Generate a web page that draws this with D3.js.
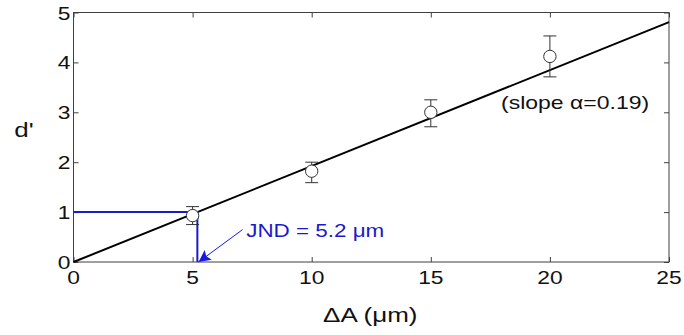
<!DOCTYPE html>
<html>
<head>
<meta charset="utf-8">
<script src="https://cdn.jsdelivr.net/npm/d3@7"></script>
<style>
  body { margin: 0; background: #fff; }
  text { font-family: "Liberation Sans", Arial, sans-serif; }
</style>
</head>
<body>
<div id="chart"></div>
<script>
// measured points
var deltaA = [5, 10, 15, 20];
var dPrime = [0.93, 1.82, 3.0, 4.12];
var errLow = [0.75, 1.59, 2.71, 3.71];
var errHigh = [1.11, 2.0, 3.25, 4.53];

var xTicks = [0, 5, 10, 15, 20, 25];
var yTicks = [0, 1, 2, 3, 4, 5];

var jnd = 5.2;
var slope = 1 / jnd;

var margin = {top: 12.5, right: 15, bottom: 73, left: 73.5};
var svgWidth = 684;
var svgHeight = 335;
var w = svgWidth - margin.left - margin.right;
var h = svgHeight - margin.top - margin.bottom;
var stretch = 1.2; // text looks widened horizontally in the original

var svg = d3.select('#chart')
  .append('svg')
  .attr('width', svgWidth)
  .attr('height', svgHeight);

var g = svg.append('g')
  .attr('transform', 'translate(' + margin.left + ',' + margin.top + ')');

var x = d3.scaleLinear().domain([0, 25]).range([0, w]);
var y = d3.scaleLinear().domain([0, 5]).range([h, 0]);

function label(parent, tx, ty, str, anchor, size, color, sx) {
  return parent.append('text')
    .attr('transform', 'translate(' + tx + ',' + ty + ') scale(' + (sx || stretch) + ',1)')
    .attr('text-anchor', anchor)
    .attr('font-size', size + 'px')
    .attr('fill', color || '#111')
    .text(str);
}

// axes with inward ticks on all sides
var axisColor = '#404040';
function styleAxis(sel) {
  sel.select('path').remove();
  sel.selectAll('line').attr('stroke', axisColor);
  sel.selectAll('text').remove();
}
g.append('g').attr('transform', 'translate(0,' + h + ')')
  .call(d3.axisBottom(x).tickValues(xTicks).tickSizeInner(-5).tickSizeOuter(0)).call(styleAxis);
g.append('g')
  .call(d3.axisTop(x).tickValues(xTicks).tickSizeInner(-5).tickSizeOuter(0)).call(styleAxis);
g.append('g')
  .call(d3.axisLeft(y).tickValues(yTicks).tickSizeInner(-5).tickSizeOuter(0)).call(styleAxis);
g.append('g').attr('transform', 'translate(' + w + ',0)')
  .call(d3.axisRight(y).tickValues(yTicks).tickSizeInner(-5).tickSizeOuter(0)).call(styleAxis);

g.append('rect')
  .attr('x', 0).attr('y', 0).attr('width', w).attr('height', h)
  .attr('fill', 'none').attr('stroke', axisColor).attr('stroke-width', 1);

// tick labels
xTicks.forEach(function (t) {
  label(g, x(t), h + 22, t, 'middle', 19);
});
yTicks.forEach(function (t) {
  label(g, -3, y(t) + 7, t, 'end', 19);
});

label(g, w / 2 - 1, h + 60, 'ΔA (μm)', 'middle', 20, '#111', 1.3);
label(svg, 24, 137, "d'", 'middle', 20, '#111', 1.3);

// fit line
g.append('line')
  .attr('x1', x(0)).attr('y1', y(0))
  .attr('x2', x(25)).attr('y2', y(25 * slope))
  .attr('stroke', '#000').attr('stroke-width', 2);

// JND guide
g.append('path')
  .attr('d', 'M' + x(0) + ',' + y(1) + 'H' + x(jnd) + 'V' + y(0))
  .attr('fill', 'none').attr('stroke', '#1a1acc').attr('stroke-width', 2);

// error bars + points
var pts = deltaA.map(function (d, i) {
  return {x: d, y: dPrime[i], lo: errLow[i], hi: errHigh[i]};
});
var eb = g.selectAll('.eb').data(pts).enter().append('g').attr('class', 'eb');
eb.append('line')
  .attr('x1', function (d) { return x(d.x); }).attr('x2', function (d) { return x(d.x); })
  .attr('y1', function (d) { return y(d.lo); }).attr('y2', function (d) { return y(d.hi); })
  .attr('stroke', '#333').attr('stroke-width', 1);
['lo', 'hi'].forEach(function (k) {
  eb.append('line')
    .attr('x1', function (d) { return x(d.x) - 6.5; }).attr('x2', function (d) { return x(d.x) + 6.5; })
    .attr('y1', function (d) { return y(d[k]); }).attr('y2', function (d) { return y(d[k]); })
    .attr('stroke', '#333').attr('stroke-width', 1);
});
eb.append('circle')
  .attr('cx', function (d) { return x(d.x); })
  .attr('cy', function (d) { return y(d.y); })
  .attr('r', 6.2)
  .attr('fill', '#fff').attr('stroke', '#333').attr('stroke-width', 1);

// annotation arrow
var arrowFrom = [7.1, 0.65];
var arrowTo = [jnd + 0.05, 0];
svg.append('defs').append('marker')
  .attr('id', 'head').attr('viewBox', '0 0 10 10')
  .attr('refX', 10).attr('refY', 5)
  .attr('markerWidth', 15).attr('markerHeight', 12)
  .attr('markerUnits', 'userSpaceOnUse')
  .attr('orient', 'auto')
  .append('path').attr('d', 'M0,0L10,5L0,10L2,5Z').attr('fill', '#1a1add');
g.append('line')
  .attr('x1', x(arrowFrom[0])).attr('y1', y(arrowFrom[1]))
  .attr('x2', x(arrowTo[0])).attr('y2', y(arrowTo[1]))
  .attr('stroke', '#1a1add').attr('stroke-width', 1)
  .attr('marker-end', 'url(#head)');

label(g, x(7.25), y(0.5), 'JND = 5.2 μm', 'start', 19, '#1a1acc', 1.18);
label(g, x(17.95), y(3.07), '(slope α=0.19)', 'start', 19, '#111', 1.21);
</script>
</body>
</html>
